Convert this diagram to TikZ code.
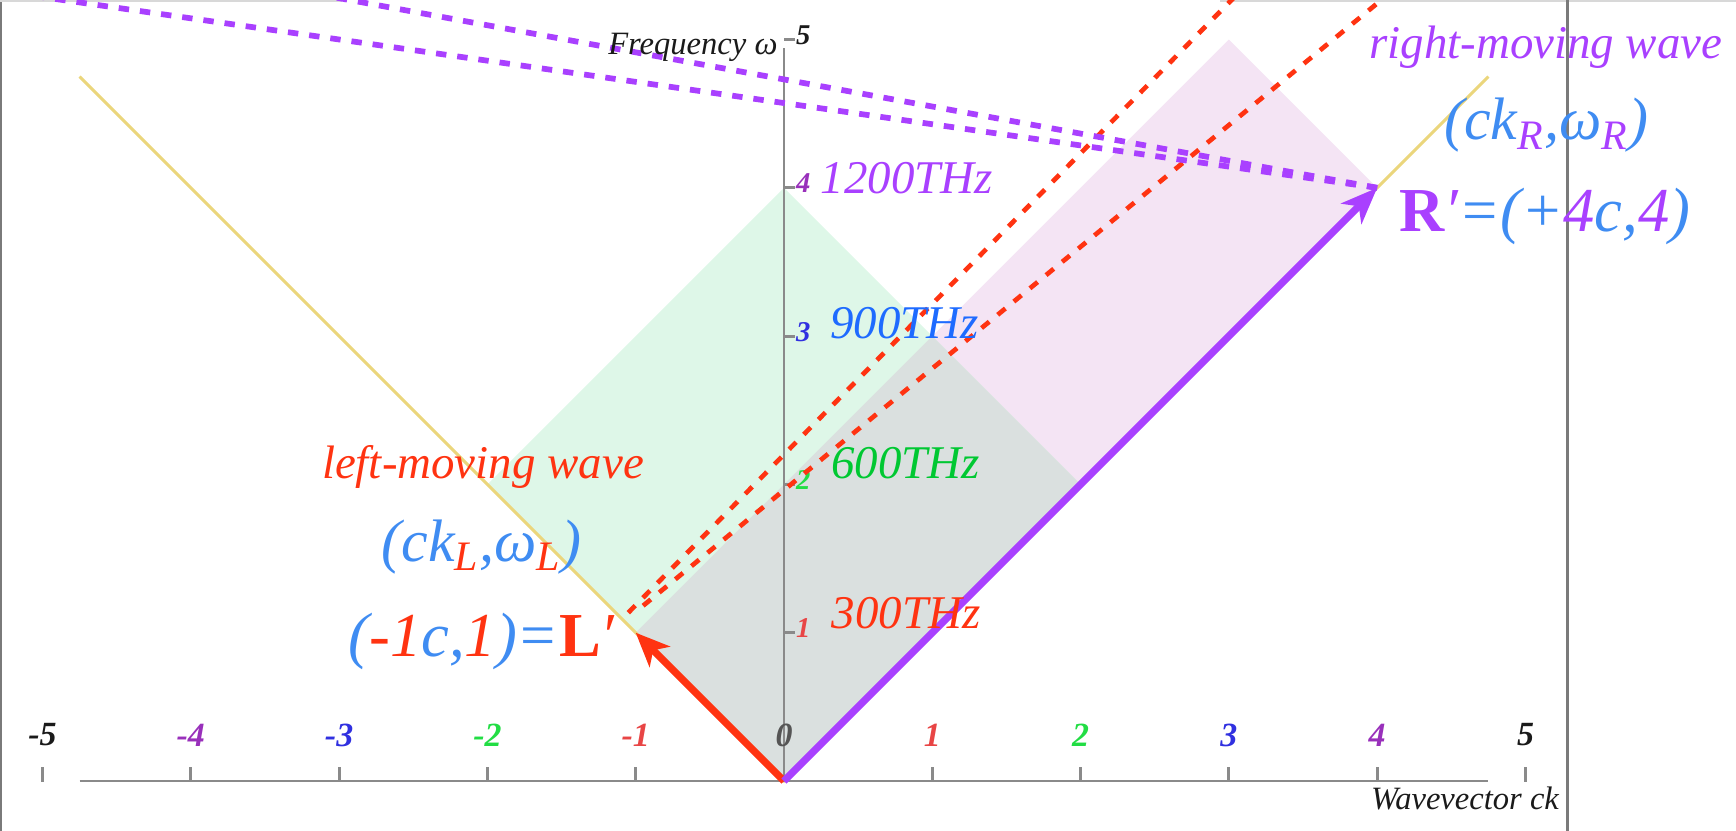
\documentclass[tikz,border=0pt]{standalone}
\usepackage{fontspec}
\setmainfont{Liberation Serif}
\usepackage{tikz}
\usetikzlibrary{arrows.meta}
\definecolor{ink}{HTML}{1A1A1A}
\definecolor{wavered}{HTML}{FF3311}
\definecolor{wavepurple}{HTML}{A940FF}
\definecolor{coordblue}{HTML}{3F8CF2}
\definecolor{thzblue}{HTML}{1E6BFF}
\definecolor{thzgreen}{HTML}{00C832}
\definecolor{tickred}{HTML}{E84545}
\definecolor{tickgreen}{HTML}{22DD44}
\definecolor{tickblue}{HTML}{3030E0}
\definecolor{tickpurple}{HTML}{9930BB}
\definecolor{zerogray}{HTML}{555555}
\definecolor{coneyellow}{HTML}{EBD67C}
\definecolor{mintbg}{HTML}{DEF7E8}
\definecolor{pinkbg}{HTML}{F4E4F4}
\definecolor{graybg}{HTML}{DAE0DF}
\definecolor{axisgray}{HTML}{8A8A8A}
\definecolor{framegray}{HTML}{7A7A7A}
\definecolor{edgegray}{HTML}{D8D8D8}
\tikzset{
  every node/.style={inner sep=0pt,text=ink},
  zonemint/.style={fill=mintbg},
  zonepink/.style={fill=pinkbg},
  zonegray/.style={fill=graybg},
  coneline/.style={draw=coneyellow,line width=1.1pt},
  axisline/.style={draw=axisgray,line width=1.1pt},
  frameline/.style={draw=framegray,line width=0.8pt},
  reddash/.style={draw=wavered,line width=1.8pt,dash pattern=on 3.8pt off 4.2pt},
  purpledash/.style={draw=wavepurple,line width=2.2pt,dash pattern=on 4pt off 4.2pt},
  redarrow/.style={-{Stealth[length=13pt,width=11pt,inset=3.5pt]},line width=2.8pt,draw=wavered},
  purplearrow/.style={-{Stealth[length=14pt,width=11pt,inset=4pt]},line width=2.8pt,draw=wavepurple},
  thzlabel/.style={anchor=west,font=\fontsize{18}{20}\selectfont\itshape},
  wavelabel/.style={font=\fontsize{18}{20}\selectfont\itshape},
  coordlabel/.style={font=\fontsize{24}{26}\selectfont\itshape,text=coordblue},
  cklabel/.style={font=\fontsize{23}{25}\selectfont\itshape,text=coordblue},
  axisname/.style={font=\fontsize{12.5}{14}\selectfont\itshape},
  xticklabel/.style={font=\fontsize{13}{15}\selectfont\bfseries\itshape},
  yticklabel/.style={font=\fontsize{11}{13}\selectfont\bfseries\itshape}
}
\begin{document}
\begin{tikzpicture}[x=2cm,y=2cm]
  \useasboundingbox (-5.2866,-0.3304) rectangle (6.4194,5.2664);
  \clip (-5.2866,-0.3304) rectangle (6.4194,5.2664);
  \coordinate (O) at (0,0);
  \coordinate (Lp) at (-1,1);
  \coordinate (Rp) at (4,4);

  \fill[zonepink] (O) -- (Rp) -- (3,5) -- (Lp) -- cycle;
  \fill[zonemint] (O) -- (2,2) -- (0,4) -- (-2,2) -- cycle;
  \fill[zonegray] (O) -- (2,2) -- (1,3) -- (Lp) -- cycle;
  \draw[coneline] (-4.75,4.75) -- (O) -- (4.75,4.75);

  \draw[axisline] (-4.75,0) -- (4.75,0);
  \draw[axisline] (O) -- (0,4.94);
  \foreach \x/\c in {-5/ink,-4/tickpurple,-3/tickblue,-2/tickgreen,-1/tickred,0/zerogray,1/tickred,2/tickgreen,3/tickblue,4/tickpurple,5/ink}{
    \draw[axisline] (\x,-0.005) -- (\x,0.097);
    \node[xticklabel,text=\c] (xt\x) at (\x,0.31) {\x};
  }
  \foreach \y/\c in {1/tickred,2/tickgreen,3/tickblue,4/tickpurple,5/ink}{
    \draw[axisline] (0,\y) -- (0.075,\y);
    \node[yticklabel,text=\c] (yt\y) at (0.13,\y+0.03) {\y};
  }

  \draw[frameline] (-5.28,-0.34) -- (-5.28,5.27);
  \draw[frameline,draw=edgegray] (-5.29,5.262) -- (-2.98,5.262);
  \draw[frameline,draw=edgegray] (2.94,5.262) -- (6.42,5.262);
  \draw[frameline,line width=1.1pt] (5.285,-0.34) -- (5.285,5.27);

  \draw[reddash] (-1.05,1.135) -- (3.1,5.35);
  \draw[reddash] (-0.95,1.182) -- (4.13,5.35);
  \draw[purpledash] (Rp) -- (-3.28,5.33);
  \draw[purpledash] (Rp) -- (-5.31,5.33);

  \draw[redarrow] (O) -- (Lp);
  \draw[purplearrow] (O) -- (Rp);

  \node[thzlabel,text=wavepurple] (thz4) at (0.245,4.066) {1200THz};
  \node[thzlabel,text=thzblue] (thz3) at (0.31,3.088) {900THz};
  \node[thzlabel,text=thzgreen] (thz2) at (0.315,2.144) {600THz};
  \node[thzlabel,text=wavered] (thz1) at (0.32,1.133) {300THz};

  \node[axisname,anchor=east] (freq) at (-0.04,4.95) {Frequency ω};
  \node[axisname] (wavevec) at (4.592,-0.115) {Wavevector ck};

  \node[wavelabel,text=wavered] (leftwave) at (-2.03,2.117) {left-moving wave};
  \node[cklabel] (leftck) at (-2.04,1.58) {(ck\textsubscript{\textcolor{wavered}{L}},ω\textsubscript{\textcolor{wavered}{L}})};
  \node[coordlabel] (leftpt) at (-2.04,0.942) {(\textcolor{wavered}{-1}c,\textcolor{wavered}{1})=\textcolor{wavered}{\textbf{\upshape L}′}};

  \node[wavelabel,text=wavepurple] (rightwave) at (5.137,4.947) {right-moving wave};
  \node[cklabel] (rightck) at (5.14,4.423) {(ck\textsubscript{\textcolor{wavepurple}{R}},ω\textsubscript{\textcolor{wavepurple}{R}})};
  \node[coordlabel] (rightpt) at (5.13,3.81) {\textcolor{wavepurple}{\textbf{\upshape R}′}=(+\textcolor{wavepurple}{4}c,\textcolor{wavepurple}{4})};
\end{tikzpicture}
\end{document}
